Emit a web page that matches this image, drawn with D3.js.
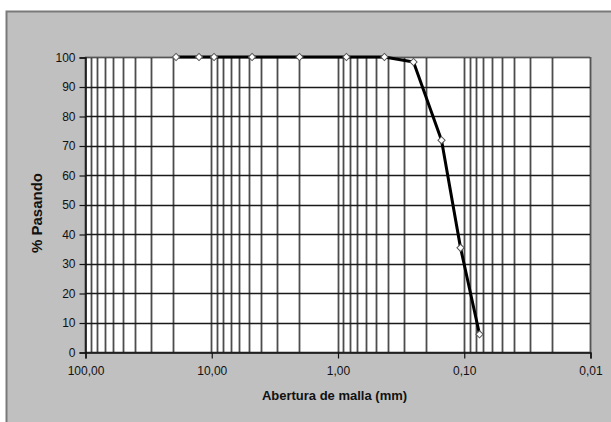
<!DOCTYPE html>
<html>
<head>
<meta charset="utf-8">
<script src="https://cdn.jsdelivr.net/npm/d3@7"></script>
<style>
  html, body { margin: 0; padding: 0; background: #ffffff; }
  svg { display: block; font-family: "Liberation Sans", Arial, sans-serif; }
</style>
</head>
<body>
<svg id="chart" width="611" height="422"></svg>
<script>
// Sieve openings (mm) and cumulative percent passing
const sieveOpenings = [19, 12.5, 9.5, 4.75, 2.0, 0.85, 0.425, 0.25, 0.15, 0.106, 0.075];
const percentPassing = [100, 100, 100, 100, 100, 100, 100, 98.3, 71.8, 35.3, 6.0];

// Axis ticks
const xTickValues = [100, 10, 1, 0.1, 0.01];
const yTickValues = [0, 10, 20, 30, 40, 50, 60, 70, 80, 90, 100];

const xTitle = "Abertura de malla (mm)";
const yTitle = "% Pasando";

const svg = d3.select("#chart");

const plot = { left: 85, right: 590, top: 57, bottom: 352 };

const x = d3.scaleLog().domain([100, 0.01]).range([plot.left, plot.right]);
const y = d3.scaleLinear().domain([0, 100]).range([plot.bottom, plot.top]);

const locale = d3.formatLocale({ decimal: ",", thousands: ".", grouping: [3], currency: ["", ""] });
const fmt2 = locale.format(".2f");

// Outer chart frame
svg.append("rect")
  .attr("x", 6.5).attr("y", 11.5)
  .attr("width", 620).attr("height", 420)
  .attr("fill", "#c0c0c0")
  .attr("stroke", "#7a7a7a")
  .attr("stroke-width", 2);

// Plot area
svg.append("rect")
  .attr("x", plot.left).attr("y", plot.top)
  .attr("width", plot.right - plot.left).attr("height", plot.bottom - plot.top)
  .attr("fill", "#ffffff");

// Vertical log gridlines (1..9 per decade)
const vGrid = [];
for (let k = -2; k <= 1; k++) {
  for (let m = 1; m <= 9; m++) vGrid.push(m * Math.pow(10, k));
}
vGrid.push(100);

svg.append("g")
  .selectAll("line")
  .data(vGrid)
  .join("line")
  .attr("x1", d => Math.round(x(d)) + 0.5)
  .attr("x2", d => Math.round(x(d)) + 0.5)
  .attr("y1", plot.top)
  .attr("y2", plot.bottom)
  .attr("stroke", "#4d4d4d")
  .attr("stroke-width", 1.8);

// Horizontal gridlines
svg.append("g")
  .selectAll("line")
  .data(yTickValues)
  .join("line")
  .attr("x1", plot.left)
  .attr("x2", plot.right)
  .attr("y1", d => Math.round(y(d)) + 0.5)
  .attr("y2", d => Math.round(y(d)) + 0.5)
  .attr("stroke", "#1a1a1a")
  .attr("stroke-width", 1.5);

// Plot area border
svg.append("rect")
  .attr("x", plot.left + 0.5).attr("y", plot.top + 0.5)
  .attr("width", plot.right - plot.left).attr("height", plot.bottom - plot.top)
  .attr("fill", "none")
  .attr("stroke", "#555555")
  .attr("stroke-width", 1);

// Y axis
const yAxis = svg.append("g")
  .attr("transform", `translate(${plot.left + 0.5},0.5)`)
  .call(d3.axisLeft(y).tickValues(yTickValues).tickSize(6).tickPadding(4).tickFormat(d3.format("d")));
yAxis.select(".domain").attr("stroke", "#111").attr("stroke-width", 1.5);
yAxis.selectAll(".tick line").attr("stroke", "#111").attr("stroke-width", 1.2);
yAxis.selectAll(".tick text")
  .attr("font-size", 12)
  .attr("fill", "#111")
  .attr("font-family", "Liberation Sans, Arial, sans-serif");

// X axis
const xAxis = svg.append("g")
  .attr("transform", `translate(0.5,${plot.bottom + 0.5})`)
  .call(d3.axisBottom(x).tickValues(xTickValues).tickSize(6).tickPadding(8).tickFormat(fmt2));
xAxis.select(".domain").attr("stroke", "#111").attr("stroke-width", 1.5);
xAxis.selectAll(".tick line").attr("stroke", "#111").attr("stroke-width", 1.2);
xAxis.selectAll(".tick text")
  .attr("font-size", 12)
  .attr("fill", "#111")
  .attr("font-family", "Liberation Sans, Arial, sans-serif");

// Grading curve
const pts = sieveOpenings.map((d, i) => [d, percentPassing[i]]);
svg.append("path")
  .datum(pts)
  .attr("fill", "none")
  .attr("stroke", "#000")
  .attr("stroke-width", 3)
  .attr("stroke-linejoin", "round")
  .attr("d", d3.line().x(d => x(d[0])).y(d => y(d[1])));

// Diamond markers
svg.append("g")
  .selectAll("path")
  .data(pts)
  .join("path")
  .attr("transform", d => `translate(${x(d[0])},${y(d[1])}) rotate(45)`)
  .attr("d", d3.symbol().type(d3.symbolSquare).size(26))
  .attr("fill", "#ffffff")
  .attr("stroke", "#555555")
  .attr("stroke-width", 1);

// Axis titles
svg.append("text")
  .attr("x", (plot.left + plot.right) / 2 - 3)
  .attr("y", 400)
  .attr("text-anchor", "middle")
  .attr("font-size", 13)
  .attr("font-weight", "bold")
  .attr("fill", "#111")
  .text(xTitle);

svg.append("text")
  .attr("transform", `translate(42,213) rotate(-90)`)
  .attr("text-anchor", "middle")
  .attr("font-size", 15)
  .attr("font-weight", "bold")
  .attr("fill", "#111")
  .text(yTitle);
</script>
</body>
</html>
